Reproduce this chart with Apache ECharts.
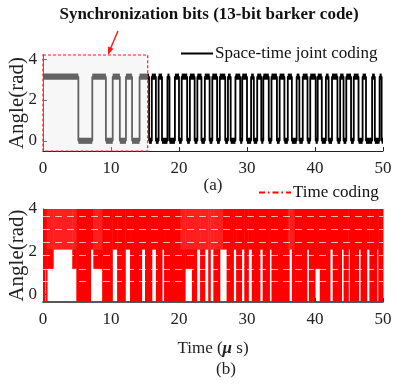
<!DOCTYPE html>
<html>
<head>
<meta charset="utf-8">
<script src="https://cdn.jsdelivr.net/npm/echarts@6/dist/echarts.min.js"></script>
<style>
  html, body { margin: 0; padding: 0; background: #fff; }
  #main { width: 396px; height: 390px; }
</style>
</head>
<body>
<div id="main"></div>
<script>
const xTicks = [0, 10, 20, 30, 40, 50];
const yTicks = [0, 2, 4];

// (a) space-time joint coding: transition times (μs), level alternates high/low starting high
const jointEdges = [0, 5.2, 7.25, 9.25, 10.25, 11.3, 12.2, 13.1, 14.2, 15.6,
  16.0, 16.6, 17.0, 17.5, 18.3, 18.6, 19.4, 20.0, 20.4, 21.2, 21.6, 22.3, 22.7, 23.3,
  23.8, 24.5, 24.9, 25.6, 26.0, 26.8, 27.2, 27.6, 28.3, 29.0, 29.3, 30.0, 30.6, 31.0,
  31.5, 32.1, 32.4, 33.2, 33.6, 34.4, 34.8, 35.5, 36.0, 36.6, 37.3, 37.7, 38.2, 38.9,
  39.3, 40.1, 40.4, 41.0, 41.6, 42.0, 42.5, 43.3, 43.7, 44.2, 44.6, 45.3, 45.7, 46.4,
  47.0, 47.5, 48.4, 48.8, 49.5, 49.8, 50];
const jointLevels = [3.14, 0];          // high, low (rad)
const syncBox = [0, 15.4, -0.5, 4.2];   // x0, x1, y0, y1 of the synchronization region

// (b) time coding: segment breakpoints and lower edge of the red band (top is 4)
const codingX = [0, 0.3, 0.45, 0.6, 1.5, 4.3, 4.9, 7.0, 7.4, 8.7, 10.2, 10.9, 12.1, 12.8,
  14.5, 15.0, 16.0, 16.6, 17.5, 17.8, 20.9, 21.9, 22.6, 23.1, 23.8, 24.3, 24.6, 25.05,
  26.0, 27.0, 28.0, 28.4, 29.2, 29.6, 30.2, 30.7, 31.9, 32.3, 33.3, 33.6, 36.2, 36.6,
  38.8, 39.1, 40.0, 40.7, 42.2, 42.6, 43.9, 44.2, 44.9, 45.1, 46.4, 46.7, 47.6, 48.0,
  49.1, 49.3, 50];
const codingFloor = [-0.35, 1.2, -0.35, 1.2, 2.1, 1.2, -0.35, 2.1, 1.2, -0.35, 2.1, -0.35,
  2.1, -0.35, 2.1, -0.35, 2.1, -0.35, 2.1, -0.35, 1.2, -0.35, 2.1, -0.35, 2.1, -0.35,
  2.1, -0.35, 2.1, -0.35, 2.1, -0.35, 2.1, -0.35, 2.1, -0.35, 2.1, -0.35, 2.1, -0.35,
  2.1, -0.35, 2.1, -0.35, 1.2, -0.35, 2.1, -0.35, 2.1, -0.35, 2.1, -0.35, 2.1, -0.35,
  2.1, -0.35, 2.1, -0.35];
const codingTop = 4;
const streakLevels = [0.6, 1.2, 1.83, 2.45, 3.05, 3.67];
const speckleRanges = [[0.6, 4.9], [7.4, 8.7], [20.2, 26.5], [36.0, 37.0]];

const serif = 'Liberation Serif';

const jointSegs = [];
for (let i = 0; i < jointEdges.length - 1; i++) {
  jointSegs.push([jointEdges[i], jointEdges[i + 1], jointLevels[i % 2]]);
}
const jointLine = [];
jointSegs.forEach(s => { jointLine.push([s[0], s[2]], [s[1], s[2]]); });

const codingSegs = [];
for (let i = 0; i < codingX.length - 1; i++) {
  codingSegs.push([codingX[i], codingX[i + 1], codingFloor[i]]);
}

function rectBetween(api, a, b) {
  const p0 = api.coord(a), p1 = api.coord(b);
  return { x: p0[0], y: p0[1], width: p1[0] - p0[0], height: p1[1] - p0[1] };
}

const chart = echarts.init(document.getElementById('main'));

const xAxisBase = {
  type: 'value', min: 0, max: 50, interval: 10,
  axisLine: { onZero: false, lineStyle: { color: '#222', width: 1 } },
  axisTick: { inside: true, length: 4, lineStyle: { color: '#222' } },
  axisLabel: { color: '#222', fontFamily: serif, fontSize: 17, margin: 9 },
  splitLine: { show: false }
};
const yAxisBase = {
  type: 'value',
  name: 'Angle(rad)', nameLocation: 'middle', nameGap: 15, nameMoveOverlap: false,
  nameTextStyle: { color: '#222', fontFamily: serif, fontSize: 21 },
  axisLine: { show: true, onZero: false, lineStyle: { color: '#222', width: 1 } },
  axisTick: { inside: true, length: 4, customValues: yTicks, lineStyle: { color: '#222' } },
  axisLabel: { color: '#222', fontFamily: serif, fontSize: 17, margin: 6, customValues: yTicks },
  splitLine: { show: false }
};

const legendBase = {
  itemWidth: 32, itemHeight: 14, itemGap: 0, padding: 0,
  itemStyle: { opacity: 0 },
  textStyle: { fontFamily: serif, fontSize: 17, color: '#111', padding: [0, 0, 0, -3] },
  selectedMode: false
};

const option = {
  animation: false,
  backgroundColor: '#fff',
  grid: [
    { left: 43, right: 13, top: 55, bottom: 239, containLabel: false, outerBoundsMode: 'none' },
    { left: 43, right: 13, top: 209, bottom: 88, containLabel: false, outerBoundsMode: 'none' }
  ],
  xAxis: [
    Object.assign({}, xAxisBase, { gridIndex: 0 }),
    Object.assign({}, xAxisBase, {
      gridIndex: 1,
      axisLine: { onZero: false, lineStyle: { color: '#222', width: 1.6 } },
      name: 'Time ({mu|μ} s)', nameLocation: 'middle', nameGap: 38,
      nameTextStyle: {
        color: '#222', fontFamily: serif, fontSize: 17,
        rich: { mu: { fontFamily: serif, fontSize: 17, fontWeight: 'bold', fontStyle: 'italic', color: '#222' } }
      }
    })
  ],
  yAxis: [
    Object.assign({}, yAxisBase, { gridIndex: 0, min: -0.5, max: 4.2 }),
    Object.assign({}, yAxisBase, { gridIndex: 1, min: -0.35, max: 4 })
  ],
  legend: [
    Object.assign({}, legendBase, { data: ['Space-time joint coding'], left: 180, top: 45 }),
    Object.assign({}, legendBase, { data: ['Time coding'], left: 258, top: 184 })
  ],
  series: [
    {
      name: 'Space-time joint coding', type: 'line',
      xAxisIndex: 0, yAxisIndex: 0,
      data: jointLine, symbol: 'none',
      lineStyle: { color: '#000', width: 1.8 },
      itemStyle: { color: '#000' },
      z: 3
    },
    {
      type: 'custom', xAxisIndex: 0, yAxisIndex: 0,
      data: jointSegs, silent: true, z: 4,
      renderItem: (params, api) => ({
        type: 'rect',
        shape: rectBetween(api, [api.value(0), api.value(2) + 0.15], [api.value(1), api.value(2) - 0.15]),
        style: { fill: '#000' }
      })
    },
    {
      type: 'custom', xAxisIndex: 0, yAxisIndex: 0,
      data: [syncBox], silent: true, z: 10,
      renderItem: (params, api) => ({
        type: 'rect',
        shape: rectBetween(api, [api.value(0), api.value(3)], [api.value(1), api.value(2)]),
        style: { fill: 'rgba(237,237,237,0.42)', stroke: '#ff1a1a', lineWidth: 1.2, lineDash: [3, 2] }
      })
    },
    {
      name: 'Time coding', type: 'line',
      xAxisIndex: 1, yAxisIndex: 1, data: [], symbol: 'none',
      lineStyle: { color: '#ff0000', width: 1.2, type: [6, 3, 1.5, 3] },
      itemStyle: { color: '#ff0000' }
    },
    {
      type: 'custom', xAxisIndex: 1, yAxisIndex: 1,
      data: codingSegs, silent: true, z: 3,
      renderItem: (params, api) => {
        const r = rectBetween(api, [api.value(0), codingTop], [api.value(1), api.value(2)]);
        r.width += 0.5;
        return { type: 'rect', shape: r, style: { fill: '#ff0000' } };
      },
      markLine: {
        silent: true, symbol: 'none', label: { show: false },
        lineStyle: { color: '#fff', width: 1, type: [7, 5], opacity: 0.7 },
        data: streakLevels.map(v => ({ yAxis: v }))
      }
    },
    {
      type: 'custom', xAxisIndex: 1, yAxisIndex: 1,
      data: speckleRanges, silent: true, z: 4,
      renderItem: (params, api) => ({
        type: 'rect',
        shape: rectBetween(api, [api.value(0), codingTop], [api.value(1), 2.1]),
        style: { fill: 'rgba(255,255,255,0.12)' }
      })
    }
  ],
  graphic: [
    {
      type: 'text', x: 209, y: 15,
      style: { text: 'Synchronization bits (13-bit barker code)', font: 'bold 17px "Liberation Serif"', fill: '#111', align: 'center', verticalAlign: 'middle' }
    },
    { type: 'line', shape: { x1: 118, y1: 31, x2: 110.5, y2: 48.5 }, style: { stroke: '#ff1a1a', lineWidth: 1.5 } },
    { type: 'polygon', shape: { points: [[108, 55], [113.5, 48.8], [108, 46.4]] }, style: { fill: '#ff1a1a' } },
    { type: 'text', x: 213, y: 186, style: { text: '(a)', font: '17px "Liberation Serif"', fill: '#222', align: 'center', verticalAlign: 'middle' } },
    { type: 'text', x: 226, y: 370, style: { text: '(b)', font: '17px "Liberation Serif"', fill: '#222', align: 'center', verticalAlign: 'middle' } }
  ]
};

chart.setOption(option);
</script>
</body>
</html>
